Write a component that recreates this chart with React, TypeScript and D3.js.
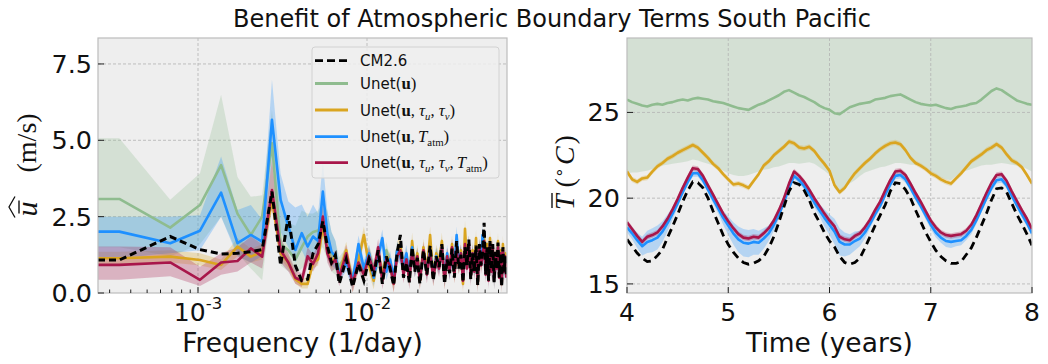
import React, { useEffect } from "react";
import * as d3 from "d3";

// ---- left panel: spectrum vs frequency (frequency = k / recordDays)
const recordDays = 2920;
const freqIndex = [
  1, 2, 3, 4, 5, 6, 7, 8, 9, 10, 11, 12, 13, 14, 15, 16, 17, 18, 19,
  20, 22, 24, 26, 28, 30, 32, 34, 36, 38, 40, 42, 44, 46, 48, 50, 52, 54, 56, 58, 60,
  63, 66, 69, 72, 75, 78, 81, 84, 87, 90, 93, 96, 99, 102, 105,
  108, 111, 114, 117, 120, 123, 126, 129, 132, 135, 138, 141, 144, 147, 150,
  153, 156, 159, 162, 165, 168, 171, 174, 177, 180, 183, 186, 189, 192, 195,
];

const specCM26 = [
  1.08, 1.85, 1.42, 1.28, 1.3, 1.35, 1.42, 3.32, 0.9, 2.55, 0.9, 0.4, 0.45, 1.3, 1.6, 2.35, 1.55, 1.0, 1.25,
  0.3, 1.1, 0.2, 0.95, 0.4, 1.1, 0.55, 1.4, 0.3, 1.2, 0.8, 0.25, 1.3, 1.9, 0.5, 1.0, 0.35, 1.5, 0.7, 1.15, 0.3,
  1.4, 0.6, 1.55, 0.4, 1.2, 0.85, 1.6, 0.3, 1.1, 0.65, 1.45, 0.5, 1.7, 0.8, 1.25,
  0.35, 1.5, 0.9, 1.75, 0.45, 1.3, 0.7, 1.55, 0.25, 1.6, 0.9, 1.4, 2.3, 0.6, 1.5,
  0.4, 1.7, 0.75, 1.6, 0.35, 1.35, 0.8, 1.65, 0.5, 1.3, 0.2, 1.5, 0.7, 1.2, 0.55,
];
const specUnetU = [
  3.08, 2.14, 2.88, 4.19, 2.6, 1.9, 2.5, 4.9, 1.6, 1.4, 1.1, 1.5, 1.85, 2.0, 2.05, 2.3, 1.85, 1.3, 1.1,
  0.9, 1.2, 0.5, 1.0, 0.7, 1.3, 0.8, 1.1, 0.6, 1.4, 0.9, 0.5, 1.2, 1.5, 0.8, 1.1, 0.6, 1.3, 0.9, 1.2, 0.5,
  1.3, 0.8, 1.5, 0.6, 1.2, 0.9, 1.4, 0.5, 1.1, 0.8, 1.3, 0.7, 1.6, 0.9, 1.2,
  0.6, 1.4, 1.0, 1.5, 0.7, 1.2, 0.8, 1.5, 0.5, 1.4, 1.0, 1.3, 1.6, 0.8, 1.3,
  0.6, 1.5, 0.9, 1.4, 0.5, 1.2, 0.9, 1.5, 0.7, 1.2, 0.5, 1.3, 0.8, 1.1, 0.7,
];
const specUnetTau = [
  1.14, 1.19, 1.08, 0.92, 1.52, 1.19, 1.35, 3.05, 1.3, 1.0, 0.45, 0.3, 0.3, 1.0, 1.1, 2.2, 1.4, 1.0, 1.2,
  0.6, 1.4, 0.3, 1.1, 1.9, 0.9, 0.4, 1.3, 0.6, 1.2, 1.0, 0.3, 1.4, 1.6, 0.7, 1.2, 0.5, 1.7, 0.8, 1.3, 0.4,
  1.5, 0.7, 1.9, 0.5, 1.3, 1.0, 1.7, 0.4, 1.2, 0.8, 1.6, 0.6, 1.5, 0.9, 1.4,
  0.3, 2.1, 1.0, 1.6, 0.6, 1.4, 0.8, 1.8, 0.3, 1.5, 1.0, 1.3, 1.9, 0.7, 1.6,
  0.5, 1.8, 0.8, 1.5, 0.4, 1.2, 0.9, 1.7, 0.6, 1.4, 0.3, 1.6, 0.8, 1.3, 0.6,
];
const specUnetT = [
  2.01, 1.63, 2.04, 3.29, 1.63, 1.9, 1.68, 5.67, 3.05, 2.17, 1.41, 1.96, 1.52, 1.85, 1.7, 3.32, 1.96, 1.35, 1.2,
  0.65, 1.0, 0.4, 1.6, 0.8, 1.3, 0.5, 1.2, 1.8, 0.7, 1.1, 0.5, 1.4, 1.2, 0.9, 1.3, 0.6, 1.5, 0.8, 1.1, 0.5,
  1.3, 0.7, 1.4, 0.6, 1.2, 0.9, 1.5, 0.5, 1.3, 0.7, 1.4, 0.8, 1.9, 1.0, 1.3,
  0.5, 1.5, 0.9, 1.6, 0.6, 1.3, 0.8, 1.4, 0.4, 1.5, 1.1, 1.9, 1.5, 0.7, 1.4,
  0.5, 1.6, 0.8, 1.4, 0.4, 1.1, 0.9, 1.5, 0.6, 1.2, 0.4, 1.4, 0.7, 1.1, 0.6,
];
const specUnetAll = [
  0.92, 1.0, 0.43, 1.0, 1.05, 1.46, 1.19, 3.37, 1.4, 1.0, 0.5, 0.4, 1.2, 0.95, 1.3, 2.5, 1.3, 0.95, 1.1,
  0.5, 1.3, 0.3, 1.0, 0.6, 1.2, 0.7, 1.5, 0.4, 1.1, 0.9, 0.3, 1.2, 1.4, 0.6, 1.1, 0.4, 1.4, 0.8, 1.2, 0.4,
  1.4, 0.6, 1.3, 0.5, 1.1, 0.8, 1.5, 0.4, 1.2, 0.7, 1.5, 0.6, 1.4, 0.9, 1.3,
  0.4, 1.6, 0.8, 1.6, 0.5, 1.3, 0.7, 1.4, 0.3, 1.5, 0.9, 1.2, 1.7, 0.6, 1.4,
  0.4, 1.6, 0.7, 1.5, 0.4, 1.3, 0.8, 1.5, 0.5, 1.3, 0.3, 1.4, 0.7, 1.2, 0.5,
];

// ensemble spread for the first 19 frequencies; past that a fixed spread
const specUnetULo = [1.5, 1.2, 1.6, 2.5, 1.3, 0.8, 0.42, 3.0, 0.9, 0.7, 0.6, 0.8, 1.0, 1.2, 1.3, 1.5, 1.1, 0.7, 0.6];
const specUnetUHi = [5.07, 3.05, 3.92, 6.49, 3.8, 3.15, 3.2, 6.0, 2.8, 2.3, 2.2, 2.7, 2.6, 2.6, 2.7, 3.0, 2.7, 2.0, 1.7];
const specUnetTauLo = [0.95, 1.0, 0.9, 0.75, 1.2, 1.0, 1.1, 2.7, 1.1, 0.8, 0.3, 0.15, 0.15, 0.8, 0.9, 1.9, 1.2, 0.8, 1.0];
const specUnetTauHi = [1.35, 1.4, 1.3, 1.1, 1.8, 1.45, 1.6, 3.4, 1.5, 1.2, 0.65, 0.5, 0.5, 1.2, 1.35, 2.5, 1.6, 1.2, 1.4];
const specUnetTLo = [1.15, 1.3, 1.4, 2.5, 1.2, 1.0, 1.2, 4.5, 2.0, 1.5, 1.0, 1.4, 1.0, 1.3, 1.2, 2.5, 1.4, 0.9, 0.8];
const specUnetTHi = [2.5, 2.5, 2.55, 4.47, 2.72, 2.88, 2.4, 6.98, 3.9, 3.0, 2.8, 2.9, 2.5, 2.9, 2.6, 4.3, 2.7, 2.0, 1.7];
const specUnetAllLo = [0.43, 0.55, 0.23, 0.6, 0.7, 1.0, 0.8, 2.8, 1.0, 0.7, 0.3, 0.2, 0.9, 0.7, 1.0, 2.1, 1.0, 0.7, 0.8];
const specUnetAllHi = [1.52, 1.5, 0.86, 1.3, 1.5, 1.85, 1.6, 4.4, 1.8, 1.3, 0.75, 0.65, 1.5, 1.25, 1.6, 2.9, 1.6, 1.2, 1.4];
const specNoiseSpread = 0.28;

const specYTicks = [0, 2.5, 5, 7.5];

// ---- right panel: mean temperature vs time, every 0.05 year from 4 to 8
const years = d3.range(81).map((i) => 4 + i * 0.05);
const tempCM26 = [
  17.6, 17.2, 16.8, 16.5, 16.3, 16.35, 16.65, 17.0, 17.7, 18.35,
  19.05, 19.8, 20.45, 20.95, 20.9, 20.6, 20.0, 19.25, 18.55, 17.85,
  17.3, 16.85, 16.5, 16.25, 16.15, 16.2, 16.35, 16.6, 17.1, 17.75,
  18.6, 19.5, 20.4, 20.9, 20.8, 20.45, 19.9, 19.15, 18.6, 18.0,
  17.5, 17.15, 16.6, 16.25, 16.15, 16.25, 16.5, 17.1, 17.75, 18.4,
  19.0, 19.6, 20.4, 20.9, 20.85, 20.5, 20.0, 19.3, 18.65, 18.0,
  17.45, 16.95, 16.6, 16.35, 16.2, 16.2, 16.3, 16.7, 17.1, 17.7,
  18.4, 19.1, 19.9, 20.55, 20.6, 20.35, 19.7, 19.05, 18.5, 17.9,
  17.25,
];
const tempUnetU = [
  25.75, 25.6, 25.5, 25.4, 25.35, 25.45, 25.5, 25.45, 25.55, 25.6,
  25.7, 25.75, 25.7, 25.8, 25.85, 25.8, 25.75, 25.65, 25.6, 25.55,
  25.45, 25.35, 25.25, 25.2, 25.15, 25.3, 25.45, 25.55, 25.7, 25.85,
  26.0, 26.2, 26.3, 26.15, 26.0, 25.9, 25.75, 25.6, 25.4, 25.25,
  25.15, 24.95, 24.9, 25.1, 25.3, 25.4, 25.5, 25.55, 25.6, 25.75,
  25.8, 25.85, 25.95, 26.0, 26.05, 25.9, 25.75, 25.6, 25.5, 25.45,
  25.4, 25.45, 25.35, 25.25, 25.2, 25.3, 25.35, 25.4, 25.5, 25.55,
  25.75, 26.0, 26.25, 26.4, 26.3, 26.1, 25.9, 25.7, 25.6, 25.5,
  25.45,
];
const tempUnetULower = [
  21.45, 21.5, 21.5, 21.55, 21.6, 21.7, 21.8, 21.9, 21.95, 22.0,
  22.05, 22.1, 22.15, 22.25, 22.2, 22.1, 22.0, 21.9, 21.8, 21.6,
  21.45, 21.35, 21.3, 21.3, 21.35, 21.45, 21.55, 21.65, 21.7, 21.8,
  21.85, 21.95, 22.05, 22.05, 22.0, 22.05, 22.1, 22.0, 21.8, 21.6,
  21.35, 20.6, 20.25, 20.5, 20.85, 21.05, 21.3, 21.5, 21.6, 21.7,
  21.8, 21.85, 21.95, 22.05, 22.05, 22.0, 21.95, 21.95, 21.9, 21.65,
  21.45, 21.35, 21.2, 21.1, 21.05, 21.3, 21.5, 21.6, 21.7, 21.8,
  21.9, 21.95, 21.95, 22.0, 22.05, 22.0, 21.95, 21.9, 21.85, 21.7,
  21.55,
];
const tempUnetUUpper = 29.8;
const tempUnetTau = [
  21.55, 21.1, 20.95, 21.15, 21.2, 21.55, 21.85, 22.05, 22.3, 22.45,
  22.65, 22.8, 22.95, 23.1, 22.95, 22.65, 22.35, 22.0, 21.75, 21.4,
  21.1, 20.8, 20.85, 20.75, 20.6, 21.0, 21.4, 21.9, 22.15, 22.5,
  22.75, 23.0, 23.3, 23.2, 22.95, 22.9, 23.0, 22.75, 22.35, 22.0,
  21.6, 20.75, 20.35, 20.6, 21.05, 21.45, 21.75, 22.05, 22.3, 22.6,
  22.85, 23.05, 23.2, 23.25, 23.15, 22.8, 22.35, 22.05, 21.9, 21.7,
  21.45, 21.3, 21.1, 20.95, 20.85, 21.15, 21.45, 21.8, 22.15, 22.35,
  22.55, 22.8, 22.95, 23.15, 22.95, 22.55, 22.2, 22.05, 21.8, 21.35,
  20.85,
];
const tempUnetTauSpread = 0.15;
const tempUnetT = [
  18.3, 17.95, 17.55, 17.2, 17.45, 17.55, 17.7, 18.05, 18.55, 19.1,
  19.7, 20.35, 20.95, 21.45, 21.45, 21.05, 20.5, 19.95, 19.4, 18.85,
  18.4, 17.95, 17.6, 17.4, 17.35, 17.45, 17.4, 17.65, 17.95, 18.45,
  19.05, 19.75, 20.6, 21.3, 21.05, 20.7, 20.25, 19.75, 19.3, 18.85,
  18.45, 18.05, 17.45, 17.3, 17.3, 17.5, 17.65, 18.0, 18.5, 19.05,
  19.55, 20.2, 20.8, 21.3, 21.35, 21.1, 20.6, 20.05, 19.55, 19.0,
  18.45, 18.0, 17.7, 17.5, 17.45, 17.5, 17.55, 17.8, 18.15, 18.7,
  19.35, 20.0, 20.6, 21.05, 21.1, 20.75, 20.15, 19.6, 19.05, 18.55,
  17.95,
];
const tempUnetTSpread = [
  0.3, 0.35, 0.45, 0.55, 0.65, 0.7, 0.7, 0.6, 0.5, 0.35,
  0.25, 0.2, 0.2, 0.2, 0.2, 0.2, 0.2, 0.25, 0.3, 0.4,
  0.55, 0.65, 0.75, 0.8, 0.8, 0.75, 0.7, 0.6, 0.45, 0.35,
  0.25, 0.2, 0.2, 0.2, 0.2, 0.2, 0.2, 0.25, 0.35, 0.5,
  0.6, 0.75, 0.8, 0.7, 0.6, 0.55, 0.45, 0.35, 0.25, 0.2,
  0.2, 0.2, 0.2, 0.2, 0.2, 0.2, 0.2, 0.2, 0.2, 0.25,
  0.25, 0.3, 0.3, 0.35, 0.35, 0.3, 0.3, 0.25, 0.25, 0.2,
  0.2, 0.2, 0.2, 0.2, 0.2, 0.2, 0.2, 0.2, 0.2, 0.2,
  0.2,
];
const tempUnetAll = [
  18.6, 18.2, 17.8, 17.45, 17.75, 17.85, 18.0, 18.35, 18.8, 19.35,
  19.95, 20.6, 21.2, 21.75, 21.7, 21.3, 20.75, 20.2, 19.65, 19.1,
  18.65, 18.25, 17.9, 17.7, 17.65, 17.75, 17.7, 17.95, 18.25, 18.7,
  19.3, 20.0, 20.85, 21.55, 21.3, 20.95, 20.5, 20.0, 19.55, 19.1,
  18.7, 18.35, 17.75, 17.6, 17.55, 17.8, 17.95, 18.3, 18.75, 19.3,
  19.8, 20.45, 21.05, 21.55, 21.6, 21.35, 20.85, 20.3, 19.8, 19.25,
  18.7, 18.3, 18.0, 17.85, 17.8, 17.85, 17.9, 18.1, 18.45, 19.0,
  19.65, 20.3, 20.9, 21.35, 21.4, 21.0, 20.4, 19.85, 19.3, 18.8,
  18.2,
];
const tempUnetAllSpread = 0.16;

const tempYTicks = [15, 20, 25];
const yearTicks = [4, 5, 6, 7, 8];

const SANS = "DejaVu Sans";
const SERIF = "Liberation Serif";
const colors = { cm: "#000000", u: "#8fbc8f", tau: "#daa520", t: "#1e90ff", all: "#a8164a" };
const BG = "#eeeeee";
const GRID = "#b2b2b2";
const SPINE = "#bcbcbc";

type Seg = { t: string; f: "sans" | "bold" | "it" | "rm" | "subit" | "subrm"; dx?: number };

const legendItems: { color: string; dash?: boolean; label: Seg[] }[] = [
  { color: colors.cm, dash: true, label: [{ t: "CM2.6", f: "sans" }] },
  { color: colors.u, label: [{ t: "Unet(", f: "sans" }, { t: "u", f: "bold" }, { t: ")", f: "rm" }] },
  {
    color: colors.tau,
    label: [
      { t: "Unet(", f: "sans" }, { t: "u", f: "bold" }, { t: ",", f: "rm" },
      { t: "τ", f: "it", dx: 4 }, { t: "u", f: "subit" }, { t: ",", f: "rm" },
      { t: "τ", f: "it", dx: 4 }, { t: "v", f: "subit" }, { t: ")", f: "rm" },
    ],
  },
  {
    color: colors.t,
    label: [
      { t: "Unet(", f: "sans" }, { t: "u", f: "bold" }, { t: ",", f: "rm" },
      { t: "T", f: "it", dx: 3 }, { t: "atm", f: "subrm" }, { t: ")", f: "rm" },
    ],
  },
  {
    color: colors.all,
    label: [
      { t: "Unet(", f: "sans" }, { t: "u", f: "bold" }, { t: ",", f: "rm" },
      { t: "τ", f: "it", dx: 4 }, { t: "u", f: "subit" }, { t: ",", f: "rm" },
      { t: "τ", f: "it", dx: 4 }, { t: "v", f: "subit" }, { t: ",", f: "rm" },
      { t: "T", f: "it", dx: 3 }, { t: "atm", f: "subrm" }, { t: ")", f: "rm" },
    ],
  },
];

function MathText({ x, y, segs, size }: { x: number; y: number; segs: Seg[]; size: number }) {
  let shift = 0;
  return (
    <text x={x} y={y} fontSize={size} fill="#111">
      {segs.map((s, i) => {
        const sub = s.f === "subit" || s.f === "subrm";
        const target = sub ? 4 : 0;
        const dy = target - shift;
        shift = target;
        return (
          <tspan
            key={i}
            dy={dy || undefined}
            dx={s.dx}
            fontFamily={s.f === "sans" ? SANS : SERIF}
            fontWeight={s.f === "bold" ? "bold" : undefined}
            fontStyle={s.f === "it" || s.f === "subit" ? "italic" : undefined}
            fontSize={sub ? size * 0.72 : s.f === "sans" ? size : size * 1.12}
          >
            {s.t}
          </tspan>
        );
      })}
    </text>
  );
}

const L = { x0: 98, x1: 507, y0: 38, y1: 293 };
const R = { x0: 627, x1: 1032, y0: 38, y1: 293 };

function SpectrumPanel() {
  const x = d3.scaleLog().domain([10 ** -3.5917, 10 ** -1.1716]).range([L.x0, L.x1]);
  const y = d3.scaleLinear().domain([0, 8.35]).range([L.y1, L.y0]);
  const fMin = x.domain()[0];
  const freqs = freqIndex.map((k) => k / recordDays);

  const pts = (vals: number[]): [number, number][] => [
    [fMin, vals[0]],
    ...freqs.map((f, i) => [f, vals[i]] as [number, number]),
  ];
  const band = (vals: number[], lo: number[], hi: number[]): [number, number, number][] => {
    const rows = freqs.map((f, i) => [
      f,
      lo[i] ?? Math.max(0, vals[i] - specNoiseSpread),
      hi[i] ?? vals[i] + specNoiseSpread,
    ] as [number, number, number]);
    return [[fMin, rows[0][1], rows[0][2]], ...rows];
  };

  const line = d3.line<[number, number]>().x((d) => x(d[0])).y((d) => y(d[1]));
  const area = d3
    .area<[number, number, number]>()
    .x((d) => x(d[0]))
    .y0((d) => y(d[1]))
    .y1((d) => y(d[2]));

  const bands = [
    { c: colors.u, d: band(specUnetU, specUnetULo, specUnetUHi) },
    { c: colors.tau, d: band(specUnetTau, specUnetTauLo, specUnetTauHi) },
    { c: colors.t, d: band(specUnetT, specUnetTLo, specUnetTHi) },
    { c: colors.all, d: band(specUnetAll, specUnetAllLo, specUnetAllHi) },
  ];
  const lines = [
    { c: colors.u, d: pts(specUnetU) },
    { c: colors.tau, d: pts(specUnetTau) },
    { c: colors.t, d: pts(specUnetT) },
    { c: colors.all, d: pts(specUnetAll) },
  ];

  const ticks = x.ticks();
  const isMajor = (t: number) => Math.abs(Math.log10(t) - Math.round(Math.log10(t))) < 1e-6;

  return (
    <g>
      <defs>
        <clipPath id="clipL">
          <rect x={L.x0} y={L.y0} width={L.x1 - L.x0} height={L.y1 - L.y0} />
        </clipPath>
      </defs>
      <rect x={L.x0} y={L.y0} width={L.x1 - L.x0} height={L.y1 - L.y0} fill={BG} />
      {specYTicks.slice(1).map((t) => (
        <line key={t} x1={L.x0} x2={L.x1} y1={y(t)} y2={y(t)} stroke={GRID} strokeWidth={0.8} strokeDasharray="3,2" />
      ))}
      {ticks.filter(isMajor).map((t) => (
        <line key={t} x1={x(t)} x2={x(t)} y1={L.y0} y2={L.y1} stroke={GRID} strokeWidth={0.8} strokeDasharray="3,2" />
      ))}
      <g clipPath="url(#clipL)">
        {bands.map((b, i) => (
          <path key={i} d={area(b.d) ?? ""} fill={b.c} fillOpacity={0.27} />
        ))}
        {lines.map((l, i) => (
          <path key={i} d={line(l.d) ?? ""} fill="none" stroke={l.c} strokeWidth={2.6} strokeLinejoin="round" />
        ))}
        <path d={line(pts(specCM26)) ?? ""} fill="none" stroke={colors.cm} strokeWidth={3} strokeDasharray="7,4" />
      </g>
      <rect x={L.x0} y={L.y0} width={L.x1 - L.x0} height={L.y1 - L.y0} fill="none" stroke={SPINE} strokeWidth={1.2} />
      {ticks.map((t) => (
        <line key={t} x1={x(t)} x2={x(t)} y1={L.y1} y2={L.y1 - (isMajor(t) ? 6 : 3.5)} stroke="#222" strokeWidth={1} />
      ))}
      {specYTicks.map((t) => (
        <g key={t}>
          <line x1={L.x0} x2={L.x0 + 6} y1={y(t)} y2={y(t)} stroke="#222" strokeWidth={1} />
          <text x={L.x0 - 6} y={y(t) + 9} textAnchor="end" fontFamily={SANS} fontSize={25.5} fill="#111">
            {t.toFixed(1)}
          </text>
        </g>
      ))}
      {ticks.filter(isMajor).map((t) => (
        <text key={t} x={x(t)} y={321} textAnchor="middle" fontFamily={SANS} fontSize={25} fill="#111">
          10<tspan dy={-12} fontSize={16.5}>{Math.round(Math.log10(t))}</tspan>
        </text>
      ))}
      <text x={(L.x0 + L.x1) / 2} y={352} textAnchor="middle" fontFamily={SANS} fontSize={26.5} fill="#111">
        Frequency (1/day)
      </text>
      <g transform={`translate(30,167.5) rotate(-90)`} fill="#111">
        <text x={-49} y={7} fontFamily={SERIF} fontStyle="italic" fontSize={30}>u</text>
        <line x1={-46} x2={-33} y1={-11} y2={-11} stroke="#111" strokeWidth={1.4} />
        <path d="M -50 -15 L -39.5 -21 L -29 -15" fill="none" stroke="#111" strokeWidth={1.3} />
        <text x={-5} y={6} fontFamily={SERIF} fontSize={28}>(m/s)</text>
      </g>
      <Legend />
    </g>
  );
}

function Legend() {
  const rowY = [60.7, 83.5, 110, 136.7, 162.7];
  return (
    <g>
      <rect x={312} y={47} width={187} height={131} rx={3} fill={BG} fillOpacity={0.85} stroke="#d2d2d2" strokeWidth={1} />
      {legendItems.map((it, i) => (
        <g key={i}>
          <line
            x1={315}
            x2={348}
            y1={rowY[i]}
            y2={rowY[i]}
            stroke={it.color}
            strokeWidth={2.8}
            strokeDasharray={it.dash ? "8,4" : undefined}
          />
          <MathText x={360} y={rowY[i] + 5.5} segs={it.label} size={15} />
        </g>
      ))}
    </g>
  );
}

function TemperaturePanel() {
  const x = d3.scaleLinear().domain([4, 8]).range([R.x0, R.x1]);
  const y = d3.scaleLinear().domain([14.47, 29.34]).range([R.y1, R.y0]);

  const line = d3
    .line<number>()
    .x((_, i) => x(years[i]))
    .y((d) => y(d));
  const area = d3
    .area<[number, number]>()
    .x((_, i) => x(years[i]))
    .y0((d) => y(d[0]))
    .y1((d) => y(d[1]));

  const bands = [
    { c: colors.u, d: tempUnetULower.map((v) => [v, tempUnetUUpper] as [number, number]) },
    { c: colors.tau, d: tempUnetTau.map((v) => [v - tempUnetTauSpread, v + tempUnetTauSpread] as [number, number]) },
    { c: colors.t, d: tempUnetT.map((v, i) => [v - tempUnetTSpread[i], v + tempUnetTSpread[i]] as [number, number]) },
    { c: colors.all, d: tempUnetAll.map((v) => [v - tempUnetAllSpread, v + tempUnetAllSpread] as [number, number]) },
  ];
  const lines = [
    { c: colors.u, d: tempUnetU },
    { c: colors.tau, d: tempUnetTau },
    { c: colors.t, d: tempUnetT },
    { c: colors.all, d: tempUnetAll },
  ];

  return (
    <g>
      <defs>
        <clipPath id="clipR">
          <rect x={R.x0} y={R.y0} width={R.x1 - R.x0} height={R.y1 - R.y0} />
        </clipPath>
      </defs>
      <rect x={R.x0} y={R.y0} width={R.x1 - R.x0} height={R.y1 - R.y0} fill={BG} />
      <g clipPath="url(#clipR)">
        {bands.map((b, i) => (
          <path key={i} d={area(b.d) ?? ""} fill={b.c} fillOpacity={0.27} />
        ))}
      </g>
      {tempYTicks.map((t) => (
        <line key={t} x1={R.x0} x2={R.x1} y1={y(t)} y2={y(t)} stroke={GRID} strokeWidth={0.8} strokeDasharray="3,2" />
      ))}
      {yearTicks.slice(1, -1).map((t) => (
        <line key={t} x1={x(t)} x2={x(t)} y1={R.y0} y2={R.y1} stroke={GRID} strokeWidth={0.8} strokeDasharray="3,2" />
      ))}
      <g clipPath="url(#clipR)">
        {lines.map((l, i) => (
          <path key={i} d={line(l.d) ?? ""} fill="none" stroke={l.c} strokeWidth={2.6} strokeLinejoin="round" />
        ))}
        <path d={line(tempCM26) ?? ""} fill="none" stroke={colors.cm} strokeWidth={2.8} strokeDasharray="8,5" />
      </g>
      <rect x={R.x0} y={R.y0} width={R.x1 - R.x0} height={R.y1 - R.y0} fill="none" stroke={SPINE} strokeWidth={1.2} />
      {yearTicks.map((t) => (
        <g key={t}>
          <line x1={x(t)} x2={x(t)} y1={R.y1} y2={R.y1 - 6} stroke="#222" strokeWidth={1} />
          <text x={x(t)} y={321} textAnchor="middle" fontFamily={SANS} fontSize={25} fill="#111">
            {t}
          </text>
        </g>
      ))}
      {tempYTicks.map((t) => (
        <g key={t}>
          <line x1={R.x0} x2={R.x0 + 6} y1={y(t)} y2={y(t)} stroke="#222" strokeWidth={1} />
          <text x={R.x0 - 7} y={y(t) + 9} textAnchor="end" fontFamily={SANS} fontSize={25.5} fill="#111">
            {t}
          </text>
        </g>
      ))}
      <text x={(R.x0 + R.x1) / 2} y={352} textAnchor="middle" fontFamily={SANS} fontSize={26.5} fill="#111">
        Time (years)
      </text>
      <g transform={`translate(562,168) rotate(-90)`} fill="#111">
        <text x={-42} y={12} fontFamily={SERIF} fontSize={28}>
          <tspan fontStyle="italic">T</tspan>
          <tspan dx={7}>(</tspan>
          <tspan dy={-10} fontSize={17}>∘</tspan>
          <tspan dy={10} dx={2} fontStyle="italic">C</tspan>
          <tspan dx={2}>)</tspan>
        </text>
        <line x1={-40} x2={-25} y1={-10} y2={-10} stroke="#111" strokeWidth={1.4} />
      </g>
    </g>
  );
}

export default function App() {
  useEffect(() => {
    document.body.style.margin = "0";
  }, []);
  return (
    <svg width={1048} height={364} style={{ display: "block", background: "#fff" }}>
      <text x={552} y={27} textAnchor="middle" fontFamily={SANS} fontSize={24} fill="#111">
        Benefit of Atmospheric Boundary Terms South Pacific
      </text>
      <SpectrumPanel />
      <TemperaturePanel />
    </svg>
  );
}
